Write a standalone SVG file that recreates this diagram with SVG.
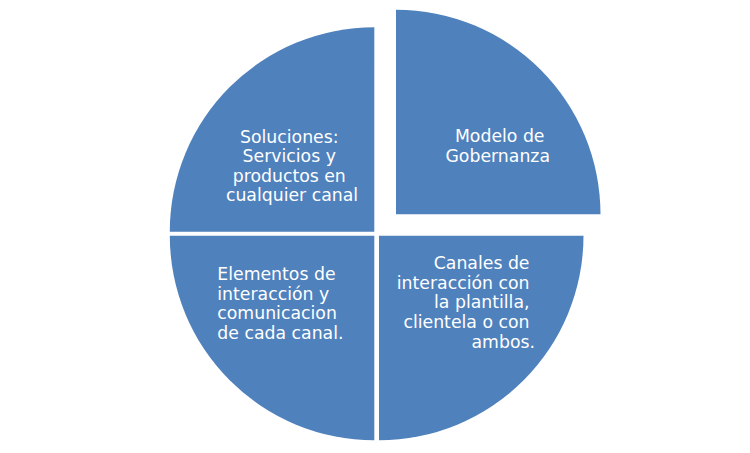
<svg xmlns="http://www.w3.org/2000/svg" width="750" height="453" viewBox="0 0 750 453">
<style>
.seg{fill:#4F81BD;}
.t{font-family:"DejaVu Sans",Verdana,sans-serif;font-size:17.3px;fill:#FFFFFF;}
</style>
<rect width="750" height="453" fill="#FFFFFF"/>
<g id="node-soluciones">
<path class="seg" d="M374.3,231.7 L169.8,231.7 A204.5,204.5 0 0 1 374.3,27.2 Z"/>
<text class="t" text-anchor="middle" x="292" y="142.5">
<tspan x="292" y="142.5">Soluciones:</tspan>
<tspan x="292" y="162.2">Servicios y</tspan>
<tspan x="292" y="181.8">productos en</tspan>
<tspan x="292" y="201.3">cualquier canal</tspan>
</text>
</g>
<g id="node-modelo">
<path class="seg" d="M396,214.3 L396,9.8 A204.5,204.5 0 0 1 600.5,214.3 Z"/>
<text class="t" text-anchor="end">
<tspan x="550" y="142.4">Modelo de</tspan>
<tspan x="550" y="161.8">Gobernanza</tspan>
</text>
</g>
<g id="node-canales">
<path class="seg" d="M379,235.7 L583.5,235.7 A204.5,204.5 0 0 1 379,440.2 Z"/>
<text class="t" text-anchor="end">
<tspan x="535" y="268.5">Canales de</tspan>
<tspan x="535" y="288.5">interacción con</tspan>
<tspan x="535" y="308.3">la plantilla,</tspan>
<tspan x="535" y="328.2">clientela o con</tspan>
<tspan x="535" y="348">ambos.</tspan>
</text>
</g>
<g id="node-elementos">
<path class="seg" d="M374.3,235.7 L374.3,440.2 A204.5,204.5 0 0 1 169.8,235.7 Z"/>
<text class="t" text-anchor="start">
<tspan x="217.3" y="280">Elementos de</tspan>
<tspan x="217.3" y="299.6">interacción y</tspan>
<tspan x="217.3" y="319.3">comunicacion</tspan>
<tspan x="217.3" y="339">de cada canal.</tspan>
</text>
</g>
<g id="connectors"></g>
</svg>
